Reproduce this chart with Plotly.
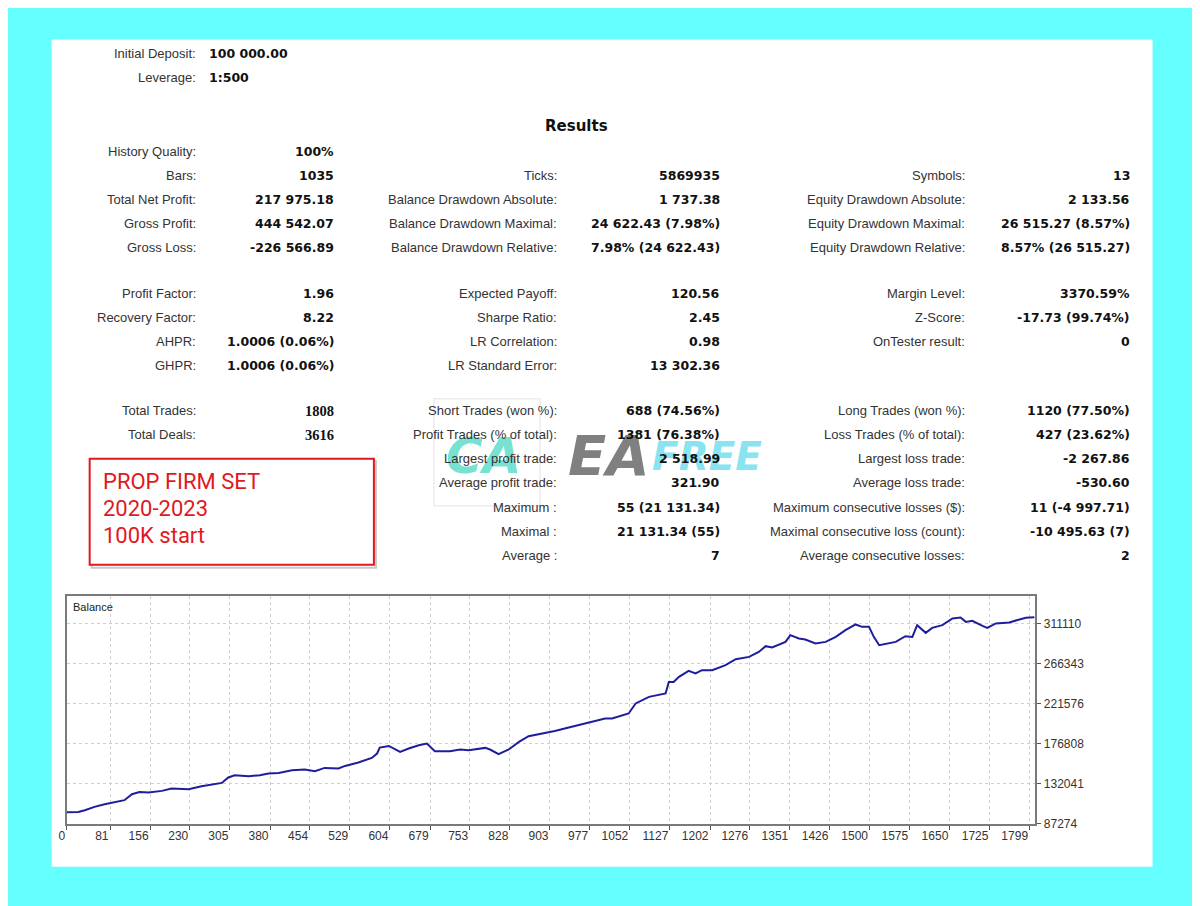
import plotly.graph_objects as go

# ---- data ----
trade_no = [0, 22, 34, 52, 71, 97, 108, 122, 136, 153, 178, 196, 209, 228, 252, 277, 290, 302,
            314, 340, 361, 377, 396, 421, 445, 464, 482, 508, 520, 545, 570, 580, 585, 602,
            623, 639, 658, 673, 688, 716, 735, 751, 782, 791, 807, 826, 845, 863, 882, 901,
            912, 938, 963, 988, 1006, 1019, 1050, 1063, 1088, 1119, 1125, 1134, 1144, 1162,
            1175, 1187, 1206, 1231, 1250, 1275, 1293, 1306, 1318, 1343, 1352, 1368, 1380,
            1399, 1418, 1437, 1455, 1474, 1486, 1499, 1508, 1518, 1530, 1549, 1567, 1580,
            1589, 1605, 1617, 1636, 1655, 1670, 1680, 1692, 1711, 1720, 1736, 1761, 1780,
            1792, 1808]
balance = [100000, 100300, 102200, 105900, 108900, 111500, 113400, 120100, 122600, 122000,
           123800, 126500, 126000, 125700, 129000, 131300, 132700, 138800, 141300, 140200,
           141300, 143200, 143900, 146900, 147700, 145800, 149500, 148800, 151700, 155500,
           160700, 165600, 172300, 174100, 167400, 171200, 174900, 176800, 168200, 168200,
           170100, 169300, 171900, 170100, 164800, 170100, 178600, 185000, 187200, 189800,
           190900, 194700, 198400, 201800, 204800, 204800, 210400, 221600, 229000, 232800,
           245700, 245700, 251400, 258100, 255200, 258900, 258900, 264400, 271200, 273700,
           279300, 285700, 284300, 290500, 298000, 294300, 293200, 288700, 290500, 296100,
           303600, 310000, 307300, 307300, 296100, 286800, 288000, 290500, 296900, 296100,
           309200, 300600, 306200, 309200, 316700, 317800, 312900, 314000, 308400, 306200,
           311100, 312200, 315600, 317400, 317975]

x_ticks = [0, 81, 156, 230, 305, 380, 454, 529, 604, 679, 753, 828, 903, 977, 1052, 1127,
           1202, 1276, 1351, 1426, 1500, 1575, 1650, 1725, 1799]
y_ticks = [87274, 132041, 176808, 221576, 266343, 311110]

header_labels = ["Initial Deposit:", "Leverage:"]
header_values = ["100 000.00", "1:500"]

col1_labels = ["History Quality:", "Bars:", "Total Net Profit:", "Gross Profit:", "Gross Loss:",
               "Profit Factor:", "Recovery Factor:", "AHPR:", "GHPR:",
               "Total Trades:", "Total Deals:"]
col1_values = ["100%", "1035", "217 975.18", "444 542.07", "-226 566.89",
               "1.96", "8.22", "1.0006 (0.06%)", "1.0006 (0.06%)",
               "1808", "3616"]
col1_rows = [0, 1, 2, 3, 4, 5, 6, 7, 8, 9, 10]

col2_labels = ["Ticks:", "Balance Drawdown Absolute:", "Balance Drawdown Maximal:",
               "Balance Drawdown Relative:", "Expected Payoff:", "Sharpe Ratio:",
               "LR Correlation:", "LR Standard Error:", "Short Trades (won %):",
               "Profit Trades (% of total):", "Largest profit trade:", "Average profit trade:",
               "Maximum :", "Maximal :", "Average :"]
col2_values = ["5869935", "1 737.38", "24 622.43 (7.98%)", "7.98% (24 622.43)", "120.56",
               "2.45", "0.98", "13 302.36", "688 (74.56%)", "1381 (76.38%)", "2 518.99",
               "321.90", "55 (21 131.34)", "21 131.34 (55)", "7"]
col2_rows = [1, 2, 3, 4, 5, 6, 7, 8, 9, 10, 11, 12, 13, 14, 15]

col3_labels = ["Symbols:", "Equity Drawdown Absolute:", "Equity Drawdown Maximal:",
               "Equity Drawdown Relative:", "Margin Level:", "Z-Score:", "OnTester result:",
               "Long Trades (won %):", "Loss Trades (% of total):", "Largest loss trade:",
               "Average loss trade:", "Maximum consecutive losses ($):",
               "Maximal consecutive loss (count):", "Average consecutive losses:"]
col3_values = ["13", "2 133.56", "26 515.27 (8.57%)", "8.57% (26 515.27)", "3370.59%",
               "-17.73 (99.74%)", "0", "1120 (77.50%)", "427 (23.62%)", "-2 267.86",
               "-530.60", "11 (-4 997.71)", "-10 495.63 (7)", "2"]
col3_rows = [1, 2, 3, 4, 5, 6, 7, 9, 10, 11, 12, 13, 14, 15]

note_lines = ["PROP FIRM SET", "2020-2023", "100K start"]

# ---- layout helpers: screen pixel -> paper (page margin + capture scale measured) ----
W, H = 1200, 906
def px(x):
    return (x - 14.4) / 0.9925 / W
def py(y):
    return 1 - (y - 7.4) / 0.992 / H

row_y = [151, 175, 199, 223, 247, 293, 317, 341, 365, 410, 434, 458, 482, 507, 531, 555]

LABEL_FONT = dict(family="Liberation Sans, Arial, sans-serif", size=13, color="#333333")
VALUE_FONT = dict(family="DejaVu Sans, Verdana, sans-serif", size=12.5, color="#111111")

fig = go.Figure()
fig.add_trace(go.Scatter(x=trade_no, y=balance, mode="lines",
                         line=dict(color="#1e1e9c", width=2), showlegend=False))

ann = []

# watermark logo (drawn first so the report text sits on top)
ann.append(dict(x=px(482), y=py(455), xref="paper", yref="paper", text="<b><i>CA</i></b>",
                showarrow=False, opacity=0.7, xanchor="center", yanchor="middle",
                font=dict(family="DejaVu Sans, sans-serif", size=50, color="#3fd6c0")))
ann.append(dict(x=px(650), y=py(455), xref="paper", yref="paper", text="<b><i>EA</i></b>",
                showarrow=False, opacity=0.85, xanchor="right", yanchor="middle",
                font=dict(family="DejaVu Sans, sans-serif", size=56, color="#6a6a6a")))
ann.append(dict(x=px(648), y=py(456), xref="paper", yref="paper", text="<b><i>FREE</i></b>",
                showarrow=False, opacity=0.85, xanchor="left", yanchor="middle",
                font=dict(family="DejaVu Sans, sans-serif", size=39, color="#74e0ef")))

def label(x, y, text):
    ann.append(dict(x=px(x), y=py(y), xref="paper", yref="paper", text=text, showarrow=False,
                    xanchor="right", yanchor="middle", font=LABEL_FONT))

def value(x, y, text, anchor="right", font=None):
    ann.append(dict(x=px(x), y=py(y), xref="paper", yref="paper", text="<b>%s</b>" % text,
                    showarrow=False, xanchor=anchor, yanchor="middle", font=font or VALUE_FONT))

for i, (lab, val) in enumerate(zip(header_labels, header_values)):
    label(196, 53 + 24 * i, lab)
    value(205, 53 + 24 * i, val, anchor="left")

ann.append(dict(x=px(574), y=py(125), xref="paper", yref="paper", text="<b>Results</b>",
                showarrow=False, xanchor="center", yanchor="middle",
                font=dict(family="DejaVu Sans, sans-serif", size=15, color="#111")))

serif_bold = dict(family="Liberation Serif, Times New Roman, serif", size=14.5, color="#111111")
for lab, val, r in zip(col1_labels, col1_values, col1_rows):
    label(196, row_y[r], lab)
    value(334, row_y[r], val, font=serif_bold if val in ("1808", "3616") else None)
for lab, val, r in zip(col2_labels, col2_values, col2_rows):
    label(557, row_y[r], lab)
    value(720, row_y[r], val)
for lab, val, r in zip(col3_labels, col3_values, col3_rows):
    label(965, row_y[r], lab)
    value(1129, row_y[r], val)

# red note box text
for i, line in enumerate(note_lines):
    ann.append(dict(x=px(99), y=py(481 + 27 * i), xref="paper", yref="paper", text=line,
                    showarrow=False, xanchor="left", yanchor="middle",
                    font=dict(family="Roboto, Liberation Sans, sans-serif", size=22, color="#e0191e")))

# chart inner caption
ann.append(dict(x=px(69), y=py(606), xref="paper", yref="paper", text="Balance",
                showarrow=False, xanchor="left", yanchor="middle",
                font=dict(family="Liberation Sans, Arial, sans-serif", size=11, color="#222")))

shapes = [
    dict(type="rect", xref="paper", yref="paper", x0=px(50), x1=px(1150), y0=py(866), y1=py(39),
         fillcolor="white", line=dict(width=0), layer="below"),
    dict(type="rect", xref="paper", yref="paper", x0=px(90), x1=px(374), y0=py(567), y1=py(460),
         fillcolor="rgba(0,0,0,0)", line=dict(color="#c8c8c8", width=2), layer="below"),
    dict(type="rect", xref="paper", yref="paper", x0=px(88), x1=px(372), y0=py(564), y1=py(458),
         fillcolor="white", line=dict(color="#e0191e", width=2), layer="below"),
    dict(type="rect", xref="paper", yref="paper", x0=px(432), x1=px(538), y0=py(505), y1=py(398),
         fillcolor="rgba(0,0,0,0)", line=dict(color="#ececec", width=1.5), layer="below"),
]

axis_font = dict(family="Liberation Sans, Arial, sans-serif", size=12, color="#333333")
fig.update_layout(
    width=W, height=H, autosize=False,
    margin=dict(l=0, r=0, t=0, b=0),
    paper_bgcolor="#66ffff", plot_bgcolor="white",
    annotations=ann, shapes=shapes, showlegend=False,
    xaxis=dict(domain=[px(65), px(1033)], range=[0, 1810], tickvals=x_ticks,
               ticks="outside", ticklen=4, tickcolor="#555", tickfont=axis_font,
               ticklabelposition="outside left",
               showgrid=True, gridcolor="#cfcfcf", griddash="dot", gridwidth=1,
               showline=True, linecolor="#7a7a7a", linewidth=2, mirror=True, zeroline=False),
    yaxis=dict(domain=[py(822.7), py(595)], range=[87274, 342110], tickvals=y_ticks,
               tickformat="d",
               side="right", ticks="outside", ticklen=4, tickcolor="#555", tickfont=axis_font,
               showgrid=True, gridcolor="#cfcfcf", griddash="dot", gridwidth=1,
               showline=True, linecolor="#7a7a7a", linewidth=2, mirror=True, zeroline=False),
)

fig.write_html("out.html")
